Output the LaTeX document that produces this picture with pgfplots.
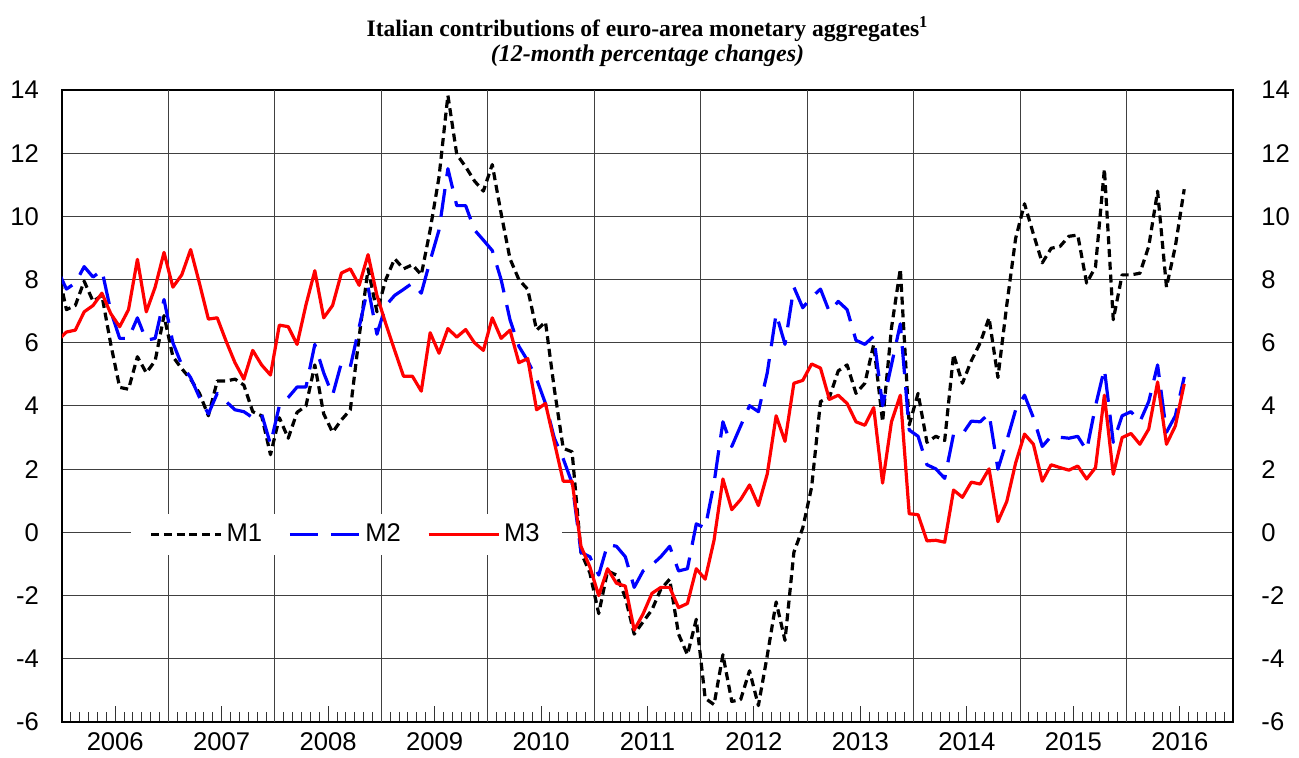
\documentclass[border=0pt]{standalone}
\usepackage{fontspec}
\setmainfont{Liberation Serif}
\newfontfamily\arial{Liberation Sans}
\usepackage{pgfplots}
\usepackage{pgfplotstable}
\pgfplotsset{compat=1.18}
\pgfplotstableread{
i m1 m2 m3
-1 8.35 8.30 6.06
0 7.05 7.70 6.34
1 7.18 7.89 6.40
2 7.95 8.41 6.98
3 7.31 8.08 7.18
4 7.50 8.30 7.57
5 5.95 7.00 6.92
6 4.59 6.14 6.51
7 4.53 6.14 7.05
8 5.56 6.79 8.64
9 5.05 6.08 6.98
10 5.43 6.14 7.76
11 6.86 7.37 8.86
12 5.56 6.00 7.76
13 5.18 5.30 8.15
14 4.85 4.90 8.95
15 4.40 4.27 7.88
16 3.69 3.75 6.75
17 4.79 4.40 6.79
18 4.79 4.14 6.05
19 4.85 3.88 5.37
20 4.66 3.82 4.85
21 3.82 3.63 5.76
22 3.69 3.75 5.30
23 2.46 2.79 4.98
24 3.63 4.01 6.56
25 2.98 4.27 6.51
26 3.80 4.60 5.95
27 4.00 4.60 7.20
28 5.30 5.95 8.28
29 3.75 5.05 6.79
30 3.17 4.34 7.18
31 3.56 5.37 8.21
32 3.88 5.24 8.34
33 6.20 6.50 7.82
34 8.34 7.76 8.79
35 6.98 6.27 7.50
36 8.00 7.18 6.60
37 8.66 7.50 5.76
38 8.34 7.69 4.94
39 8.47 7.89 4.94
40 8.15 7.57 4.47
41 9.57 8.60 6.32
42 11.25 9.57 5.67
43 13.83 11.51 6.45
44 11.96 10.34 6.18
45 11.57 10.34 6.42
46 11.12 9.57 6.00
47 10.80 9.25 5.76
48 11.64 8.92 6.79
49 10.09 8.00 6.14
50 8.66 6.73 6.40
51 8.00 5.89 5.37
52 7.69 5.43 5.50
53 6.40 4.85 3.88
54 6.66 4.08 4.08
55 4.53 2.98 2.85
56 2.66 2.33 1.62
57 2.55 1.56 1.62
58 -0.63 -0.63 -0.44
59 -1.28 -0.77 -1.09
60 -2.57 -1.35 -2.00
61 -1.22 -0.38 -1.15
62 -1.35 -0.44 -1.61
63 -2.06 -0.77 -1.70
64 -3.22 -1.74 -3.09
65 -2.83 -1.22 -2.58
66 -2.45 -1.03 -1.93
67 -1.80 -0.77 -1.74
68 -1.48 -0.44 -1.74
69 -3.22 -1.22 -2.38
70 -3.87 -1.15 -2.25
71 -2.75 0.27 -1.15
72 -5.25 0.14 -1.48
73 -5.45 1.56 -0.25
74 -3.87 3.50 1.69
75 -5.35 2.72 0.72
76 -5.29 3.37 1.04
77 -4.38 4.01 1.50
78 -5.48 3.82 0.85
79 -3.90 5.05 1.85
80 -2.20 6.92 3.69
81 -3.42 5.95 2.88
82 -0.63 7.76 4.72
83 0.14 7.11 4.81
84 1.43 7.44 5.33
85 4.14 7.70 5.20
86 4.27 6.98 4.21
87 5.11 7.31 4.34
88 5.30 7.05 4.08
89 4.40 6.08 3.50
90 4.72 5.95 3.39
91 5.95 6.21 3.95
92 3.50 4.01 1.56
93 6.47 5.30 3.50
94 8.34 6.60 4.34
95 3.40 3.24 0.59
96 4.40 3.04 0.56
97 2.85 2.14 -0.27
98 3.04 2.01 -0.25
99 2.91 1.71 -0.31
100 5.63 3.11 1.34
101 4.72 3.11 1.11
102 5.43 3.52 1.59
103 6.00 3.50 1.53
104 6.79 3.76 2.01
105 4.90 2.00 0.34
106 7.20 2.90 0.98
107 9.31 3.88 2.20
108 10.40 4.34 3.11
109 9.44 3.63 2.79
110 8.53 2.72 1.62
111 8.99 3.04 2.14
112 9.05 3.01 2.05
113 9.37 2.98 1.97
114 9.41 3.04 2.10
115 7.89 2.59 1.69
116 8.40 4.00 2.05
117 11.50 5.18 4.34
118 6.73 2.85 1.84
119 8.15 3.69 3.00
120 8.15 3.82 3.13
121 8.20 3.50 2.79
122 9.05 4.14 3.27
123 10.80 5.30 4.76
124 7.76 3.17 2.79
125 9.05 3.69 3.37
126 10.86 4.92 4.70
}\data
\newcommand{\tickfont}{\arial\fontsize{12.8}{14}\selectfont}
\begin{document}
\begin{tikzpicture}
\begin{axis}[name=ax, scale only axis, width=585.5pt, height=316pt,
  xmin=0, xmax=132, ymin=-6, ymax=14,
  xtick={6,18,...,126},
  xticklabels={2006,2007,2008,2009,2010,2011,2012,2013,2014,2015,2016},
  xtick pos=left, tick align=inside,
  major tick length=8pt, minor tick length=5pt,
  minor xtick={1,...,131},
  extra x ticks={12,24,...,120}, extra x tick labels={},
  extra x tick style={grid=major, major tick length=0pt},
  ytick={-6,-4,...,14},
  yticklabels={-6,-4,-2,0,2,4,6,8,10,12,14},
  ymajorgrids=true, ytick style={draw=none}, ytick pos=left,
  yticklabel style={font=\tickfont, xshift=-8pt},
  xticklabel style={font=\tickfont, yshift=-2pt},
  major grid style={black!75, line width=0.5pt},
  axis line style={black, line width=0.8pt},
  tick style={black!80, line width=0.5pt},
  legend columns=3,
  legend style={at={(0.243,0.2967)}, anchor=center, draw=none, fill=white,
    font=\tickfont, inner xsep=9pt, inner ysep=3pt,
    /tikz/every even column/.append style={column sep=11pt}},
  legend image code/.code={\draw[#1] (0pt,0pt) -- (35pt,0pt);},
]
\addplot[black, line width=1.6pt, line join=round, dash pattern=on 4pt off 2.4pt] table[x expr=\thisrow{i}+0.5, y=m1]{\data};
\addlegendentry{M1}
\addplot[blue, line width=1.6pt, line join=round, dash pattern=on 14pt off 6.5pt] table[x expr=\thisrow{i}+0.5, y=m2]{\data};
\addlegendentry{M2}
\addplot[red, line width=1.6pt, line join=round] table[x expr=\thisrow{i}+0.5, y=m3]{\data};
\addlegendentry{M3}
\end{axis}
\begin{axis}[scale only axis, width=585.5pt, height=316pt,
  xmin=0, xmax=132, ymin=-6, ymax=14,
  hide x axis, axis y line*=right,
  ytick={-6,-4,...,14},
  yticklabels={-6,-4,-2,0,2,4,6,8,10,12,14},
  ytick style={draw=none},
  yticklabel style={font=\tickfont, xshift=10.7pt},
  axis line style={black, line width=0.8pt},
]
\end{axis}
\node[font=\bfseries\fontsize{11.8}{13}\selectfont] at ([yshift=30.5pt]ax.north) {Italian contributions of euro-area monetary aggregates\textsuperscript{1}};
\node[font=\bfseries\itshape\fontsize{12}{13}\selectfont] at ([yshift=17pt]ax.north) {(12-month percentage changes)};
\pgfresetboundingbox
\path ([xshift=-31pt,yshift=-18pt]ax.south west) rectangle ([xshift=33pt,yshift=45pt]ax.north east);
\end{tikzpicture}
\end{document}
